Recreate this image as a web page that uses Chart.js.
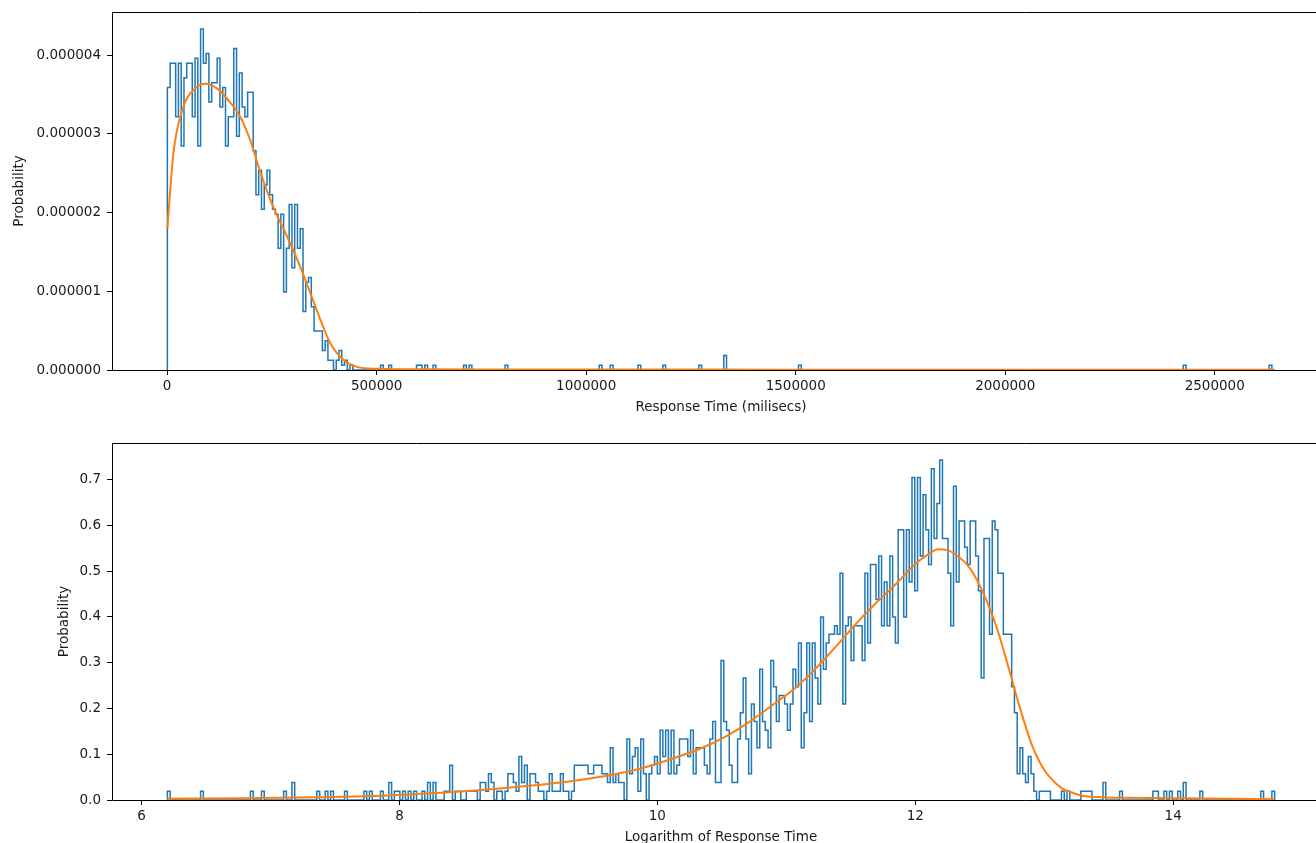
<!DOCTYPE html>
<html>
<head>
<meta charset="utf-8">
<script src="https://cdn.jsdelivr.net/npm/chart.js@4.4.1/dist/chart.umd.min.js"></script>
<style>
  html, body { margin: 0; padding: 0; background: #fff; overflow: hidden; width: 1316px; height: 843px; }
  .panel { position: absolute; left: 0; }
  #topPanel { top: 0; }
  #bottomPanel { top: 430px; }
</style>
</head>
<body>
<div class="panel" id="topPanel"><canvas id="timeChart" width="1331" height="420"></canvas></div>
<div class="panel" id="bottomPanel"><canvas id="logChart" width="1331" height="420"></canvas></div>
<script>
// sample size behind both density histograms
const SAMPLE_COUNT = 2445;

// response time histogram (ms), 400 bins between these edges
const TIME_MIN = 493;
const TIME_MAX = 2643000;
const TIME_COUNTS = [
  58,63,63,52,63,46,60,63,63,52, 64,46,70,63,65,55,59,59,64,54,
  58,46,52,52,66,48,61,54,52,57, 57,45,36,41,33,38,41,36,33,32,
  25,32,16,25,34,21,34,25,29,12, 18,19,13,8,8,8,4,6,2,2,
  0,2,4,1,2,0,1,0,0,0, 0,0,0,0,0,0,0,1,0,0,
  1,0,0,0,0,0,0,0,0,0, 1,1,0,1,0,0,1,0,0,0,
  0,0,0,0,0,0,0,1,0,1, 0,0,0,0,0,0,0,0,0,0,
  0,0,1,0,0,0,0,0,0,0, 0,0,0,0,0,0,0,0,0,0,
  0,0,0,0,0,0,0,0,0,0, 0,0,0,0,0,0,1,0,0,0,
  1,0,0,0,0,0,0,0,0,0, 1,0,0,0,0,0,0,0,0,1,
  0,0,0,0,0,0,0,0,0,0, 0,0,1,0,0,0,0,0,0,0,
  0,3,0,0,0,0,0,0,0,0, 0,0,0,0,0,0,0,0,0,0,
  0,0,0,0,0,0,0,0,1,0, 0,0,0,0,0,0,0,0,0,0,
  0,0,0,0,0,0,0,0,0,0, 0,0,0,0,0,0,0,0,0,0,
  0,0,0,0,0,0,0,0,0,0, 0,0,0,0,0,0,0,0,0,0,
  0,0,0,0,0,0,0,0,0,0, 0,0,0,0,0,0,0,0,0,0,
  0,0,0,0,0,0,0,0,0,0, 0,0,0,0,0,0,0,0,0,0,
  0,0,0,0,0,0,0,0,0,0, 0,0,0,0,0,0,0,0,0,0,
  0,0,0,0,0,0,0,0,0,0, 0,0,0,0,0,0,0,0,0,0,
  0,0,0,0,0,0,0,1,0,0, 0,0,0,0,0,0,0,0,0,0,
  0,0,0,0,0,0,0,0,0,0, 0,0,0,0,0,0,0,0,1,0
];
// kernel density estimate of response time
const TIME_KDE_X = [493, 15000, 38900, 65000, 90800, 118700, 150500, 174400, 198300, 222200,
  253200, 286000, 317700, 341600, 365500, 389400, 420500, 453200, 501000, 600000,
  800000, 1000000, 1300000, 1600000, 2000000, 2300000, 2643000];
const TIME_KDE_Y = [1.80e-6, 2.76e-6, 3.35e-6, 3.57e-6, 3.64e-6, 3.58e-6, 3.40e-6, 3.22e-6, 2.92e-6, 2.52e-6,
  2.07e-6, 1.70e-6, 1.31e-6, 0.98e-6, 0.64e-6, 0.34e-6, 0.13e-6, 0.04e-6, 0.015e-6, 0.008e-6,
  0.006e-6, 0.005e-6, 0.005e-6, 0.004e-6, 0.002e-6, 0.002e-6, 0.002e-6];
const TIME_TICKS = [0, 500000, 1000000, 1500000, 2000000, 2500000];
const TIME_DENSITY_TICKS = [0, 1e-6, 2e-6, 3e-6, 4e-6];

// log response time histogram, 400 bins between these edges
const LOG_MIN = 6.2;
const LOG_MAX = 14.787;
const LOG_COUNTS = [
  1,0,0,0,0,0,0,0,0,0, 0,0,1,0,0,0,0,0,0,0,
  0,0,0,0,0,0,0,0,0,0, 1,0,0,0,1,0,0,0,0,0,
  0,0,1,0,0,2,0,0,0,0, 0,0,0,0,1,0,0,1,0,1,
  0,0,0,0,1,0,0,0,0,0, 0,1,0,1,0,0,0,1,0,0,
  2,0,1,1,0,1,0,1,0,1, 0,0,1,0,2,0,2,0,0,0,
  1,1,4,0,1,1,0,0,1,1, 1,1,0,2,2,1,3,2,0,1,
  1,0,1,3,3,2,1,5,2,4, 0,3,3,2,1,1,0,1,3,1,
  1,1,3,1,1,0,1,4,4,4, 4,4,3,3,4,4,4,3,3,2,
  6,2,3,2,2,0,7,3,5,6, 1,7,3,0,3,4,5,3,8,5,
  8,3,8,3,4,7,7,7,5,8, 3,6,6,6,4,3,7,9,2,2,
  16,9,8,4,2,2,7,10,14,7, 3,11,9,6,15,9,8,6,16,13,
  9,12,12,11,8,11,15,13,18,6, 10,18,9,18,14,11,21,15,18,19,
  19,20,19,26,11,20,21,16,20,20, 20,16,26,18,27,27,23,28,20,25,
  20,28,21,18,31,31,21,31,25,37, 24,37,28,35,31,27,38,30,34,39,
  30,30,26,20,36,25,32,32,29,27, 32,32,28,24,14,30,30,19,32,31,
  26,26,19,19,19,13,10,3,6,3, 2,5,3,1,0,1,1,1,1,0,
  0,0,0,1,0,1,0,0,0,0, 1,1,1,1,0,0,0,0,2,0,
  0,0,0,0,1,0,0,0,0,0, 0,0,0,0,0,0,1,1,0,0,
  1,0,1,0,0,1,0,2,0,0, 0,0,0,1,0,0,0,0,0,0,
  0,0,0,0,0,0,0,0,0,0, 0,0,0,0,0,1,0,0,0,1
];
const LOG_KDE_X = [6.2, 6.8, 7.4, 8.0, 8.5, 9.0, 9.3, 9.56, 9.82, 10.08,
  10.34, 10.55, 10.73, 10.91, 11.07, 11.22, 11.38, 11.54, 11.69, 11.85,
  12.0, 12.1, 12.18, 12.25, 12.31, 12.42, 12.52, 12.63, 12.73, 12.81,
  12.91, 12.98, 13.04, 13.14, 13.2, 13.32, 13.6, 14.0, 14.4, 14.787];
const LOG_KDE_Y = [0.003, 0.004, 0.006, 0.011, 0.019, 0.031, 0.040, 0.051, 0.065, 0.087,
  0.113, 0.142, 0.174, 0.211, 0.245, 0.285, 0.334, 0.385, 0.429, 0.472,
  0.516, 0.537, 0.548, 0.546, 0.537, 0.508, 0.457, 0.378, 0.283, 0.203,
  0.116, 0.075, 0.051, 0.025, 0.018, 0.008, 0.005, 0.004, 0.003, 0.0015];
const LOG_TICKS = [6, 8, 10, 12, 14];
const LOG_DENSITY_TICKS = [0, 0.1, 0.2, 0.3, 0.4, 0.5, 0.6, 0.7];

const BLUE = '#1f77b4';
const ORANGE = '#ff7f0e';
const FONT = { family: 'DejaVu Sans', size: 13.5 };

// outline of a step histogram (density normalised like matplotlib)
function stepOutline(lo, hi, counts) {
  const w = (hi - lo) / counts.length;
  const pts = [{ x: lo, y: 0 }];
  counts.forEach((c, i) => {
    const d = c / (SAMPLE_COUNT * w);
    pts.push({ x: lo + i * w, y: d }, { x: lo + (i + 1) * w, y: d });
  });
  pts.push({ x: hi, y: 0 });
  return pts;
}

// matplotlib draws a full box round the axes
const spines = {
  id: 'spines',
  afterDatasetsDraw(chart) {
    const { ctx, chartArea: a } = chart;
    ctx.save();
    ctx.strokeStyle = '#000';
    ctx.lineWidth = 1;
    ctx.beginPath();
    ctx.moveTo(a.left + 0.5, a.top + 0.5);
    ctx.lineTo(a.right - 0.5, a.top + 0.5);
    ctx.lineTo(a.right - 0.5, a.bottom + 0.5);
    ctx.lineTo(a.left + 0.5, a.bottom + 0.5);
    ctx.closePath();
    ctx.stroke();
    ctx.restore();
  }
};

function makeChart(id, cfg) {
  const hist = stepOutline(cfg.lo, cfg.hi, cfg.counts);
  const kde = cfg.kdeX.map((x, i) => ({ x, y: cfg.kdeY[i] }));
  const maxY = Math.max(...hist.map(p => p.y)) * 1.05;
  const margin = (cfg.hi - cfg.lo) * 0.05;

  return new Chart(document.getElementById(id), {
    type: 'line',
    data: {
      datasets: [
        {
          data: hist,
          borderColor: BLUE,
          borderWidth: 1.5,
          pointRadius: 0,
          tension: 0,
          fill: false,
          order: 2,
        },
        {
          data: kde,
          borderColor: ORANGE,
          borderWidth: 2,
          pointRadius: 0,
          cubicInterpolationMode: 'monotone',
          fill: false,
          order: 1,
        },
      ],
    },
    options: {
      responsive: false,
      animation: false,
      devicePixelRatio: 1,
      layout: { padding: { top: cfg.padTop, right: 1, left: 0, bottom: 0 } },
      plugins: { legend: { display: false }, tooltip: { enabled: false } },
      scales: {
        x: {
          type: 'linear',
          min: cfg.lo - margin,
          max: cfg.hi + margin,
          afterFit: (s) => { s.height = 50; s.paddingLeft = 0; s.paddingRight = 0; },
          afterBuildTicks: (s) => { s.ticks = cfg.xTicks.map(v => ({ value: v })); },
          border: { display: false },
          grid: { drawOnChartArea: false, drawTicks: true, tickLength: 5, color: '#000' },
          ticks: {
            font: FONT, color: '#1a1a1a', padding: 3, maxRotation: 0, autoSkip: false,
            callback: (v) => String(v),
          },
          title: {
            display: true, text: cfg.xTitle, font: FONT, color: '#1a1a1a',
            padding: { top: 0, bottom: 4 },
          },
        },
        y: {
          type: 'linear',
          min: 0,
          max: maxY,
          afterFit: (s) => { s.width = 112; s.paddingTop = 0; s.paddingBottom = 0; },
          afterBuildTicks: (s) => { s.ticks = cfg.yTicks.map(v => ({ value: v })); },
          border: { display: false },
          grid: { drawOnChartArea: false, drawTicks: true, tickLength: 5, color: '#000' },
          ticks: {
            font: FONT, color: '#1a1a1a', padding: 6,
            callback: (v) => v.toFixed(cfg.yDigits),
          },
          title: {
            display: true, text: 'Probability', font: FONT, color: '#1a1a1a',
            padding: { top: cfg.yTitlePad, bottom: 0 },
          },
        },
      },
    },
    plugins: [spines],
  });
}

makeChart('timeChart', {
  lo: TIME_MIN, hi: TIME_MAX, counts: TIME_COUNTS,
  kdeX: TIME_KDE_X, kdeY: TIME_KDE_Y,
  xTicks: TIME_TICKS, yTicks: TIME_DENSITY_TICKS, yDigits: 6,
  xTitle: 'Response Time (milisecs)', yTitlePad: 11, padTop: 12,
});

makeChart('logChart', {
  lo: LOG_MIN, hi: LOG_MAX, counts: LOG_COUNTS,
  kdeX: LOG_KDE_X, kdeY: LOG_KDE_Y,
  xTicks: LOG_TICKS, yTicks: LOG_DENSITY_TICKS, yDigits: 1,
  xTitle: 'Logarithm of Response Time', yTitlePad: 56, padTop: 13,
});
</script>
</body>
</html>
